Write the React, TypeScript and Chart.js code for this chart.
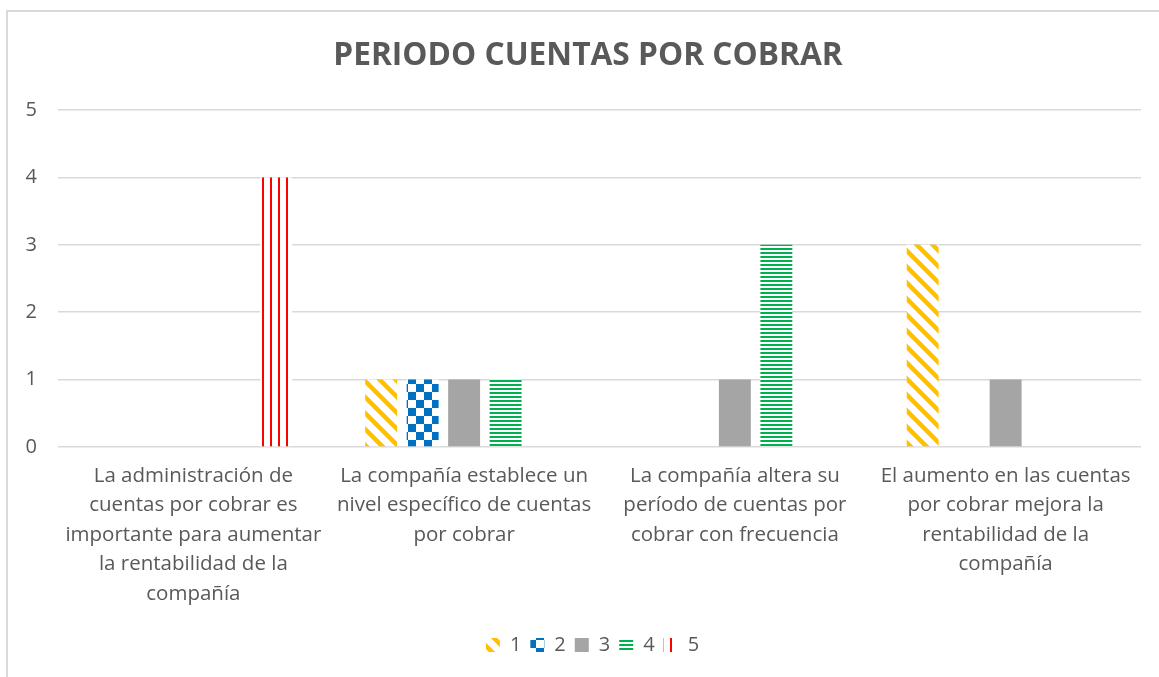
import React, { useEffect, useRef } from "react";
import { Chart, registerables } from "chart.js";

Chart.register(...registerables);

const categories: string[][] = [
  ["La administración de", "cuentas por cobrar es", "importante para aumentar", "la rentabilidad de la", "compañía"],
  ["La compañía establece un", "nivel específico de cuentas", "por cobrar"],
  ["La compañía altera su", "período de cuentas por", "cobrar con frecuencia"],
  ["El aumento en las cuentas", "por cobrar mejora la", "rentabilidad de la", "compañía"],
];
const seriesNames = ["1", "2", "3", "4", "5"];
const series1 = [0, 1, 0, 3];
const series2 = [0, 1, 0, 0];
const series3 = [0, 1, 1, 1];
const series4 = [0, 1, 3, 0];
const series5 = [4, 0, 0, 0];
const yTicks = [0, 1, 2, 3, 4, 5];
const titleText = "PERIODO CUENTAS POR COBRAR";

const FONT = "'Open Sans', 'Liberation Sans', sans-serif";
const TEXT = "#595959";

function makePattern(kind: string): CanvasPattern | string {
  const c = document.createElement("canvas");
  const ctx = c.getContext("2d")!;
  if (kind === "diag") {
    c.width = 16; c.height = 16;
    ctx.fillStyle = "#fff"; ctx.fillRect(0, 0, 16, 16);
    ctx.strokeStyle = "#FFC000"; ctx.lineWidth = 4.5;
    for (const o of [-16, 0, 16]) {
      ctx.beginPath(); ctx.moveTo(o - 2, -2); ctx.lineTo(o + 18, 18); ctx.stroke();
    }
  } else if (kind === "check") {
    c.width = 16; c.height = 16;
    ctx.fillStyle = "#fff"; ctx.fillRect(0, 0, 16, 16);
    ctx.fillStyle = "#0070C0";
    ctx.fillRect(0, 0, 8, 8); ctx.fillRect(8, 8, 8, 8);
  } else if (kind === "horiz") {
    c.width = 4; c.height = 4;
    ctx.fillStyle = "#fff"; ctx.fillRect(0, 0, 4, 4);
    ctx.fillStyle = "#00B050"; ctx.fillRect(0, 0, 4, 2);
  } else if (kind === "vert") {
    c.width = 8; c.height = 8;
    ctx.fillStyle = "#fff"; ctx.fillRect(0, 0, 8, 8);
    ctx.fillStyle = "#FF0000"; ctx.fillRect(6, 0, 2.5, 8);
  } else {
    return "#A5A5A5";
  }
  const p = document.createElement("canvas").getContext("2d")!.createPattern(c, "repeat");
  return p || "#ccc";
}

export default function App() {
  const ref = useRef<HTMLCanvasElement>(null);
  useEffect(() => {
    if (!ref.current) return;
    const fills = ["diag", "check", "solid", "horiz", "vert"].map(makePattern);
    const values = [series1, series2, series3, series4, series5];
    const titlePlugin = {
      id: "customTitle",
      afterLayout(chart: any) {
        if (chart.legend) {
          chart.legend.left += 44;
          chart.legend.right += 0;
        }
      },
      afterDraw(chart: any) {
        const ctx = chart.ctx;
        ctx.save();
        ctx.font = `bold 31.7px ${FONT}`;
        ctx.fillStyle = TEXT;
        ctx.textAlign = "center";
        ctx.textBaseline = "middle";
        ctx.fillText(titleText, 588, 56);
        ctx.restore();
      },
    };
    const chart = new Chart(ref.current, {
      type: "bar",
      data: {
        labels: categories,
        datasets: seriesNames.map((n, i) => ({
          label: n,
          data: values[i],
          backgroundColor: fills[i] as any,
          borderWidth: 0,
          categoryPercentage: 0.766,
          barPercentage: 0.77,
        })),
      },
      options: {
        animation: false,
        responsive: false,
        layout: { padding: { top: 110, right: 18, left: 0, bottom: 12 } },
        plugins: {
          title: { display: false },
          tooltip: { enabled: false },
          legend: {
            position: "bottom",
            labels: {
              boxWidth: 14,
              boxHeight: 14,
              padding: 9,
              color: TEXT,
              font: { family: FONT, size: 20 },
            },
          },
        },
        scales: {
          x: {
            grid: { display: false },
            border: { display: false },
            ticks: {
              color: TEXT,
              font: { family: FONT, size: 20.5, lineHeight: 1.44 },
              padding: 6,
              maxRotation: 0,
              autoSkip: false,
            },
            afterFit(s: any) { s.height = 179; },
          },
          y: {
            min: 0,
            max: 5,
            afterBuildTicks(s: any) { s.ticks = yTicks.map((v) => ({ value: v })); },
            grid: { color: "#D9D9D9", lineWidth: 1.5, drawTicks: false },
            border: { display: false },
            ticks: { color: TEXT, font: { family: FONT, size: 20 }, padding: 21 },
            afterFit(s: any) { s.width = 58; },
          },
        },
      },
      plugins: [titlePlugin],
    });
    return () => chart.destroy();
  }, []);
  return (
    <div style={{ position: "fixed", left: 0, top: 0, width: 1159, height: 677, background: "#fff", overflow: "hidden" }}>
      <div style={{ position: "absolute", left: 6, top: 10, width: 1200, height: 700, border: "2px solid #D9D9D9", boxSizing: "border-box" }} />
      <canvas ref={ref} width={1159} height={677} style={{ position: "absolute", left: 0, top: 0 }} />
    </div>
  );
}
